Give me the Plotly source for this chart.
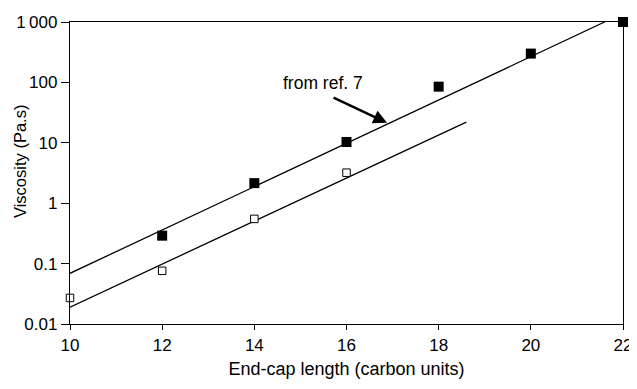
import plotly.graph_objects as go

# Data
filled_x = [12, 14, 16, 18, 20, 22]
filled_y = [0.29, 2.15, 10.3, 85, 300, 1000]

open_x = [10, 12, 14, 16]
open_y = [0.027, 0.076, 0.55, 3.2]

# fitted trend lines (endpoints)
fit_upper_x = [10, 21.6]
fit_upper_y = [0.069, 1000]
fit_lower_x = [10, 18.6]
fit_lower_y = [0.019, 22]

y_tickvals = [0.01, 0.1, 1, 10, 100, 1000]
y_ticktext = ["0.01", "0.1", "1", "10", "100", "1\u2009000"]
x_tickvals = [10, 12, 14, 16, 18, 20, 22]

fam = "Liberation Sans, Arial, sans-serif"

W, H = 629, 381
ML, MR, MT, MB = 62, 14, 14, 65

fig = go.Figure()
fig.add_trace(go.Scatter(x=fit_upper_x, y=fit_upper_y, mode="lines",
                         line=dict(color="black", width=1.3), showlegend=False))
fig.add_trace(go.Scatter(x=fit_lower_x, y=fit_lower_y, mode="lines",
                         line=dict(color="black", width=1.3), showlegend=False))
fig.add_trace(go.Scatter(x=filled_x, y=filled_y, mode="markers",
                         marker=dict(symbol="square", size=10, color="black"),
                         cliponaxis=False, showlegend=False))
fig.add_trace(go.Scatter(x=open_x, y=open_y, mode="markers",
                         marker=dict(symbol="square", size=7.5, color="white",
                                     line=dict(color="black", width=1)),
                         cliponaxis=False, showlegend=False))

fig.add_annotation(x=16.88, y=1.33, xref="x", yref="y", ax=-55, ay=-26,
                   showarrow=True, arrowhead=2, arrowsize=1.1, arrowwidth=2.5,
                   arrowcolor="black", text="")
fig.add_annotation(x=15.49, y=1.99, xref="x", yref="y", text="from ref. 7",
                   showarrow=False, font=dict(family=fam, size=17.5, color="black"))
# y-axis title (placed in paper coords)
plot_w = W - ML - MR
plot_h = H - MT - MB
fig.add_annotation(x=(12 - ML) / plot_w, y=(H - MB - 154) / plot_h,
                   xref="paper", yref="paper", text="Viscosity (Pa.s)",
                   xanchor="center", yanchor="middle",
                   textangle=-90, showarrow=False,
                   font=dict(family=fam, size=16.5, color="black"))

fig.update_layout(
    width=W, height=H,
    margin=dict(l=ML, r=MR, t=MT, b=MB),
    paper_bgcolor="white", plot_bgcolor="white",
    font=dict(family=fam, size=17, color="black"),
    xaxis=dict(range=[10, 22], tickvals=x_tickvals, showline=True, mirror=True,
               linecolor="black", linewidth=1.3, ticks="outside", ticklen=5,
               tickcolor="black", showgrid=False, zeroline=False, automargin=False,
               tickfont=dict(size=17),
               title=dict(text="End-cap length (carbon units)", standoff=8,
                          font=dict(size=18))),
    yaxis=dict(type="log", range=[-2, 3], tickvals=y_tickvals, ticktext=y_ticktext,
               showline=True, mirror=True, linecolor="black", linewidth=1.3,
               ticks="outside", ticklen=8, tickcolor="black", showgrid=False,
               zeroline=False, automargin=False, tickfont=dict(size=17)),
)
fig.write_html("out.html")
